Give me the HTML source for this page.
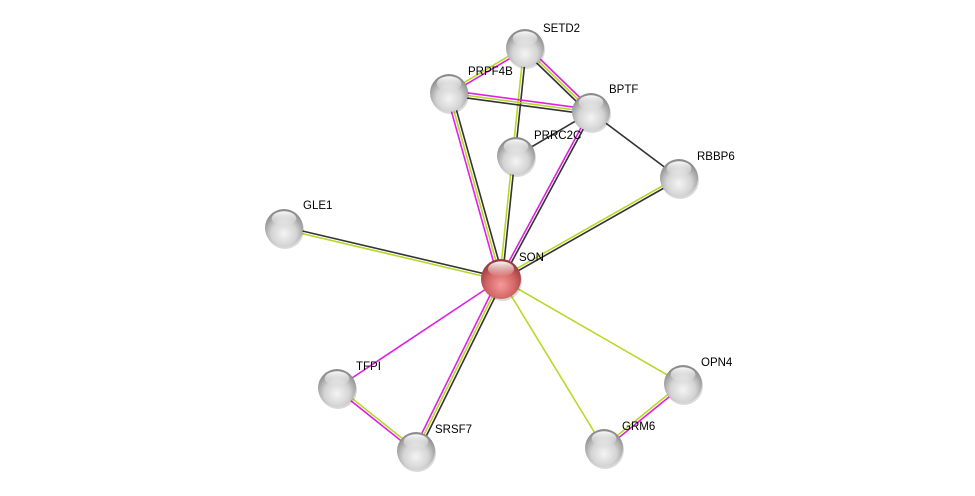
<!DOCTYPE html>
<html><head><meta charset="utf-8"><style>
html,body{margin:0;padding:0;background:#fff;width:975px;height:496px;overflow:hidden}
svg{display:block}
text{font-family:"Liberation Sans",sans-serif;font-size:11.5px;fill:#000}
</style></head><body>
<svg id="s" width="975" height="496" viewBox="0 0 975 496">
<defs>
<radialGradient id="g" cx="0.5" cy="0.65" r="0.6">
<stop offset="0" stop-color="#f4f4f4"/><stop offset="0.55" stop-color="#d4d4d4"/><stop offset="1" stop-color="#8c8c8c"/>
</radialGradient>
<radialGradient id="r" cx="0.5" cy="0.65" r="0.6">
<stop offset="0" stop-color="#f59a9a"/><stop offset="0.6" stop-color="#d26464"/><stop offset="1" stop-color="#9a3c3c"/>
</radialGradient>
<linearGradient id="h" x1="0" y1="0" x2="0" y2="1">
<stop offset="0" stop-color="#fff" stop-opacity="0.95"/><stop offset="1" stop-color="#fff" stop-opacity="0"/>
</linearGradient>
</defs>
<g id="e"></g><g id="n"></g>
</svg>
<script>
var N={SETD2:[525,48],PRPF4B:[449,93],BPTF:[591,112],PRRC2C:[516,156],RBBP6:[679,178],GLE1:[284,228],SON:[501,279],TFPI:[337,388],SRSF7:[416,451],OPN4:[683,384],GRM6:[604,448]};
var M="#e020e0",Y="#b8d828",K="#333";
var E=[["SON","PRPF4B",[M,Y,K]],["SON","SETD2",[Y,K]],["SON","BPTF",[M,K]],["SON","GLE1",[Y,K]],["SON","RBBP6",[Y,K]],["SON","TFPI",[M]],["SON","SRSF7",[K,Y,M]],["SON","OPN4",[Y]],["SON","GRM6",[Y]],["SETD2","PRPF4B",[M,Y]],["SETD2","BPTF",[M,Y,K]],["PRPF4B","BPTF",[M,Y,K]],["PRRC2C","BPTF",[K]],["BPTF","RBBP6",[K]],["TFPI","SRSF7",[Y,M]],["OPN4","GRM6",[M,Y]]];
var ns="http://www.w3.org/2000/svg",eg=document.getElementById("e"),ng=document.getElementById("n");
function el(t,a,p){var x=document.createElementNS(ns,t);for(var k in a)x.setAttribute(k,a[k]);p.appendChild(x);return x;}
E.forEach(function(e){var a=N[e[0]],b=N[e[1]],dx=b[0]-a[0],dy=b[1]-a[1],L=Math.hypot(dx,dy),px=-dy/L,py=dx/L,c=e[2],s=2.6;
c.forEach(function(col,i){var o=(i-(c.length-1)/2)*s;el("line",{x1:a[0]+px*o,y1:a[1]+py*o,x2:b[0]+px*o,y2:b[1]+py*o,stroke:col,"stroke-width":1.6},eg);});});
var lab={SETD2:[543,32],PRPF4B:[468,75],BPTF:[609,93],PRRC2C:[534,139],RBBP6:[697,160],GLE1:[303,209],SON:[519,261],TFPI:[356,370],SRSF7:[435,433],OPN4:[701,366],GRM6:[622,430]};
for(var k in N){var p=N[k],r=k=="SON"?20:19;
el("circle",{cx:p[0]+1,cy:p[1]+2,r:r,fill:"#000",opacity:0.15},ng);
el("circle",{cx:p[0],cy:p[1],r:r,fill:k=="SON"?"url(#r)":"url(#g)"},ng);
el("ellipse",{cx:p[0],cy:p[1]-r*0.5,rx:r*0.65,ry:r*0.38,fill:"url(#h)"},ng);
var t=el("text",{x:lab[k][0],y:lab[k][1]},ng);t.textContent=k;}
</script>
</body></html>
